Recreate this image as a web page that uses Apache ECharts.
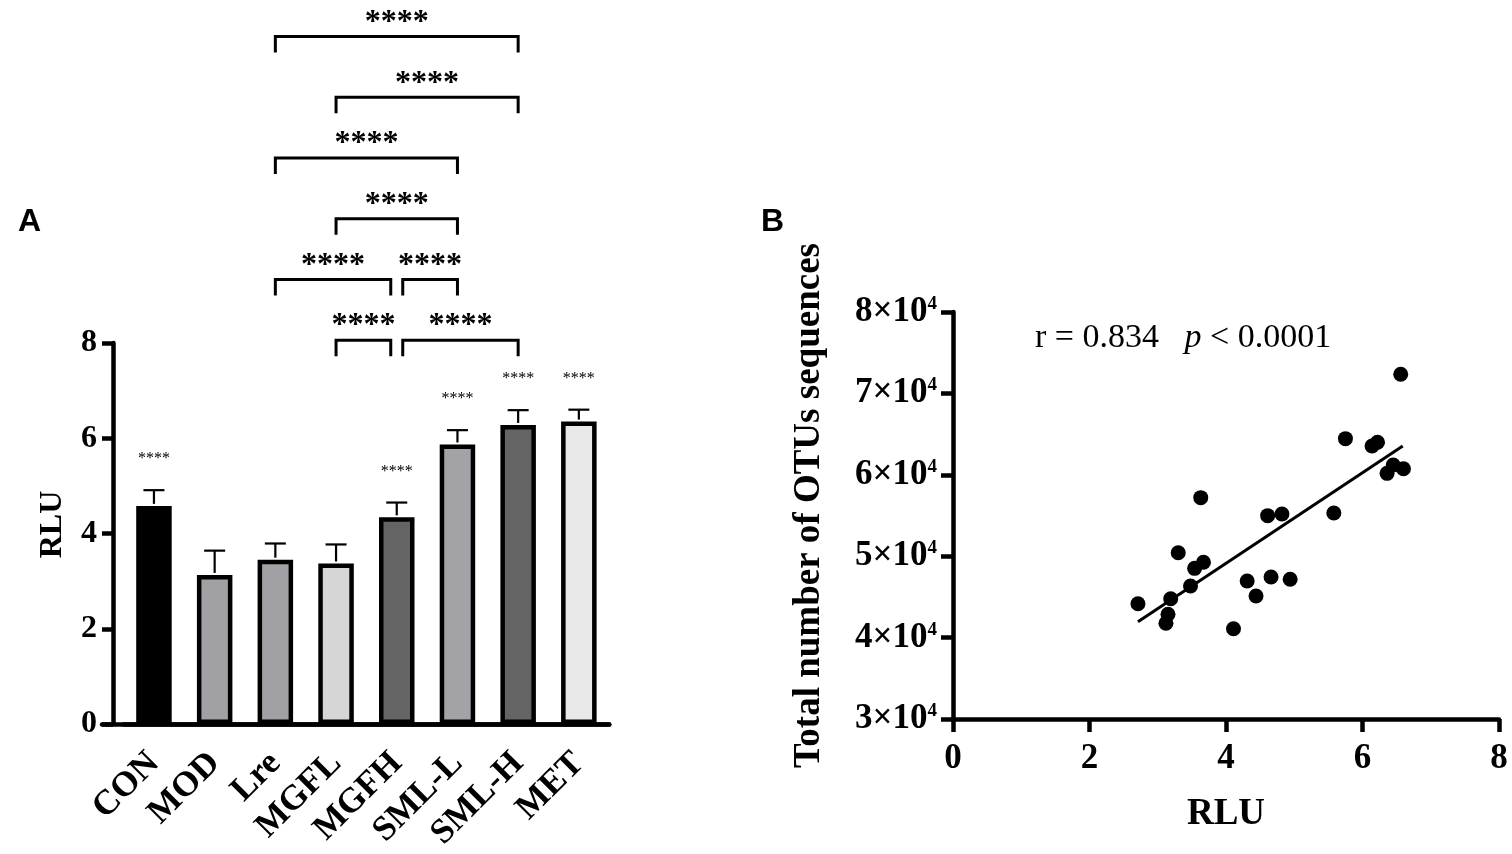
<!DOCTYPE html>
<html>
<head>
<meta charset="utf-8">
<script src="https://cdn.jsdelivr.net/npm/echarts@6/dist/echarts.min.js"></script>
<style>
html,body{margin:0;padding:0;background:#fff;}
#chart{width:1512px;height:854px;}
</style>
</head>
<body>
<div id="chart"></div>
<script>
// ---------- Panel A data ----------
const categories = ['CON', 'MOD', 'Lre', 'MGFL', 'MGFH', 'SML-L', 'SML-H', 'MET'];
const rluMean = [4.58, 3.13, 3.45, 3.37, 4.34, 5.87, 6.28, 6.35];
const rluErrTop = [4.91, 3.64, 3.79, 3.77, 4.65, 6.17, 6.59, 6.60];
const vsModelStars = ['****', '', '', '', '****', '****', '****', '****'];
const barTicks = [0, 2, 4, 6, 8];
// significance brackets between groups, stacked by level (1 = lowest)
const brackets = [
  { from: 'MGFL', to: 'MGFH', level: 1, text: '****' },
  { from: 'MGFH', to: 'SML-H', level: 1, text: '****' },
  { from: 'Lre', to: 'MGFH', level: 2, text: '****' },
  { from: 'MGFH', to: 'SML-L', level: 2, text: '****' },
  { from: 'MGFL', to: 'SML-L', level: 3, text: '****' },
  { from: 'Lre', to: 'SML-L', level: 4, text: '****' },
  { from: 'MGFL', to: 'SML-H', level: 5, text: '****' },
  { from: 'Lre', to: 'SML-H', level: 6, text: '****' }
];

// ---------- Panel B data ----------
const scatterRLU = [6.56, 5.75, 6.14, 6.22, 6.45, 6.36, 6.60, 3.63, 4.61, 4.82, 5.58, 3.30,
                    3.67, 3.54, 3.48, 4.31, 4.66, 4.94, 4.44, 3.19, 2.71, 3.15, 3.12, 4.11];
const scatterOTU = [72350, 64440, 63540, 63990, 61200, 60180, 60750, 57190, 54980, 55180, 55310, 50430,
                    49250, 48510, 46340, 46950, 47440, 47160, 45110, 44780, 44160, 42860, 41760, 41090];
const fitRLU = [2.71, 6.59];
const fitOTU = [41950, 63540];
const scatterXTicks = [0, 2, 4, 6, 8];
const scatterYTicks = [30000, 40000, 50000, 60000, 70000, 80000];
const statText = { r: '0.834', p: '0.0001' };

// ---------- styles ----------
const barColors = ['#000000', '#a1a1a5', '#a1a1a5', '#d6d6d6', '#646464', '#a3a3a7', '#646464', '#e9e9e9'];
const SERIF = '"Liberation Serif", "Times New Roman", serif';
const SANS = '"Liberation Sans", Arial, sans-serif';
const AXW = 4.5;
const bracketBase = 8.06, bracketStep = 1.275;

const chart = echarts.init(document.getElementById('chart'));

function bracketGeom(b) {
  const fi = categories.indexOf(b.from), ti = categories.indexOf(b.to);
  let fs = 0, ts = 0;
  brackets.forEach(o => {
    if (o === b || o.level !== b.level) return;
    if (o.from === b.to) ts = -6;
    if (o.to === b.from) fs = 6;
  });
  return [fi, ti, bracketBase + (b.level - 1) * bracketStep, fs, ts];
}

const option = {
  animation: false,
  backgroundColor: '#ffffff',
  title: [
    { text: 'A', left: 13, top: 201, textStyle: { fontFamily: SANS, fontWeight: 'bold', fontSize: 32, color: '#000' } },
    { text: 'B', left: 756, top: 201, textStyle: { fontFamily: SANS, fontWeight: 'bold', fontSize: 32, color: '#000' } },
    {
      text: '{n|r = ' + statText.r + '   }{i|p}{n| < ' + statText.p + '}',
      left: 1030, top: 316,
      textStyle: {
        fontWeight: 'normal',
        rich: {
          n: { fontFamily: SERIF, fontSize: 34, fontWeight: 'normal', color: '#000' },
          i: { fontFamily: SERIF, fontSize: 34, fontWeight: 'normal', fontStyle: 'italic', color: '#000' }
        }
      }
    }
  ],
  grid: [
    { left: 123.6, top: 343, width: 485.6, height: 381 },
    { left: 953, top: 312, width: 546, height: 407 },
    { left: 102, top: 343, width: 507.2, height: 381 }
  ],
  xAxis: [
    {
      type: 'category', gridIndex: 0, data: categories,
      axisLine: { lineStyle: { color: '#000', width: AXW } },
      axisTick: { alignWithLabel: true, length: 12, lineStyle: { color: '#000', width: AXW } },
      axisLabel: { rotate: 45, margin: 34, verticalAlign: 'middle', align: 'right', color: '#000', fontFamily: SERIF, fontWeight: 'bold', fontSize: 35, interval: 0 },
      splitLine: { show: false }
    },
    {
      type: 'value', gridIndex: 1, min: scatterXTicks[0], max: scatterXTicks[scatterXTicks.length - 1], interval: 2,
      name: 'RLU', nameLocation: 'middle', nameGap: 77,
      nameTextStyle: { fontFamily: SERIF, fontWeight: 'bold', fontSize: 37, color: '#000' },
      axisLine: { onZero: false, lineStyle: { color: '#000', width: AXW } },
      axisTick: { length: 13, lineStyle: { color: '#000', width: AXW } },
      axisLabel: { margin: 22, color: '#000', fontFamily: SERIF, fontWeight: 'bold', fontSize: 35 },
      splitLine: { show: false }
    },
    {
      type: 'value', gridIndex: 2, min: 0, max: 1,
      axisLine: { onZero: false, lineStyle: { color: '#000', width: AXW } },
      axisTick: { show: false }, axisLabel: { show: false }, splitLine: { show: false }
    }
  ],
  yAxis: [
    {
      type: 'value', gridIndex: 0, min: barTicks[0], max: barTicks[barTicks.length - 1], interval: 2, offset: 10.6,
      name: 'RLU', nameLocation: 'middle', nameGap: 44, nameRotate: 90,
      nameTextStyle: { fontFamily: SERIF, fontWeight: 'bold', fontSize: 32, color: '#000', padding: [0, 0, 0, 18] },
      axisLine: { show: true, lineStyle: { color: '#000', width: AXW } },
      axisTick: { show: true, length: 11, lineStyle: { color: '#000', width: AXW } },
      axisLabel: { margin: 16, color: '#000', fontFamily: SERIF, fontWeight: 'bold', fontSize: 32 },
      splitLine: { show: false }
    },
    {
      type: 'value', gridIndex: 1, min: scatterYTicks[0], max: scatterYTicks[scatterYTicks.length - 1], interval: 10000,
      name: 'Total number of OTUs sequences', nameLocation: 'middle', nameGap: 125, nameRotate: 90,
      nameTextStyle: { fontFamily: SERIF, fontWeight: 'bold', fontSize: 37, color: '#000', padding: [0, 0, 0, 20] },
      axisLine: { show: true, onZero: false, lineStyle: { color: '#000', width: AXW } },
      axisTick: { show: true, length: 12, lineStyle: { color: '#000', width: AXW } },
      axisLabel: {
        margin: 16,
        formatter: v => '{m|' + (v / 10000) + '×10}{s|4}',
        rich: {
          m: { fontFamily: SERIF, fontWeight: 'bold', fontSize: 35, color: '#000' },
          s: { fontFamily: SERIF, fontWeight: 'bold', fontSize: 19, color: '#000', verticalAlign: 'top' }
        }
      },
      splitLine: { show: false }
    },
    { type: 'value', gridIndex: 2, min: 0, max: 1, show: false }
  ],
  series: [
    {
      type: 'bar', xAxisIndex: 0, yAxisIndex: 0, barWidth: 35.5,
      data: rluMean.map((v, i) => ({ value: v, itemStyle: { color: barColors[i], borderColor: '#000', borderWidth: AXW } })),
      z: 2
    },
    {
      type: 'custom', xAxisIndex: 0, yAxisIndex: 0, z: 3,
      data: categories.map((c, i) => [i, rluMean[i], rluErrTop[i]]),
      renderItem: function (params, api) {
        const x = api.value(0);
        const p0 = api.coord([x, api.value(1)]);
        const p1 = api.coord([x, api.value(2)]);
        const ch = [
          { type: 'line', shape: { x1: p0[0], y1: p0[1] - 2, x2: p1[0], y2: p1[1] }, style: { stroke: '#000', lineWidth: 2.2 } },
          { type: 'line', shape: { x1: p1[0] - 10.5, y1: p1[1], x2: p1[0] + 10.5, y2: p1[1] }, style: { stroke: '#000', lineWidth: 2.2 } }
        ];
        const s = vsModelStars[params.dataIndex];
        if (s) {
          ch.push({ type: 'text', style: { text: s, x: p1[0], y: p1[1] - 23, align: 'center', verticalAlign: 'bottom',
            fontFamily: SERIF, fontSize: 16, fill: '#000' } });
        }
        return { type: 'group', children: ch };
      }
    },
    {
      type: 'custom', xAxisIndex: 0, yAxisIndex: 0, z: 3, clip: false,
      data: brackets.map(bracketGeom),
      renderItem: function (params, api) {
        const y = api.value(2);
        const a = api.coord([api.value(0), y]);
        const b = api.coord([api.value(1), y]);
        const x1 = a[0] + api.value(3), x2 = b[0] + api.value(4), yy = a[1];
        const leg = 16;
        return {
          type: 'group', children: [
            { type: 'polyline', shape: { points: [[x1, yy + leg], [x1, yy], [x2, yy], [x2, yy + leg]] },
              style: { stroke: '#000', lineWidth: 3, fill: null } },
            { type: 'text', style: { text: brackets[params.dataIndex].text, x: (x1 + x2) / 2, y: yy + 2,
              align: 'center', verticalAlign: 'bottom', fontFamily: SERIF, fontWeight: 'bold', fontSize: 32, fill: '#000' } }
          ]
        };
      }
    },
    {
      type: 'scatter', xAxisIndex: 1, yAxisIndex: 1, symbolSize: 15,
      itemStyle: { color: '#000', opacity: 1 },
      data: scatterRLU.map((v, i) => [v, scatterOTU[i]]), z: 3
    },
    {
      type: 'line', xAxisIndex: 1, yAxisIndex: 1, symbol: 'none',
      lineStyle: { color: '#000', width: 3 },
      data: fitRLU.map((v, i) => [v, fitOTU[i]]), z: 2
    }
  ]
};
chart.setOption(option);
</script>
</body>
</html>
